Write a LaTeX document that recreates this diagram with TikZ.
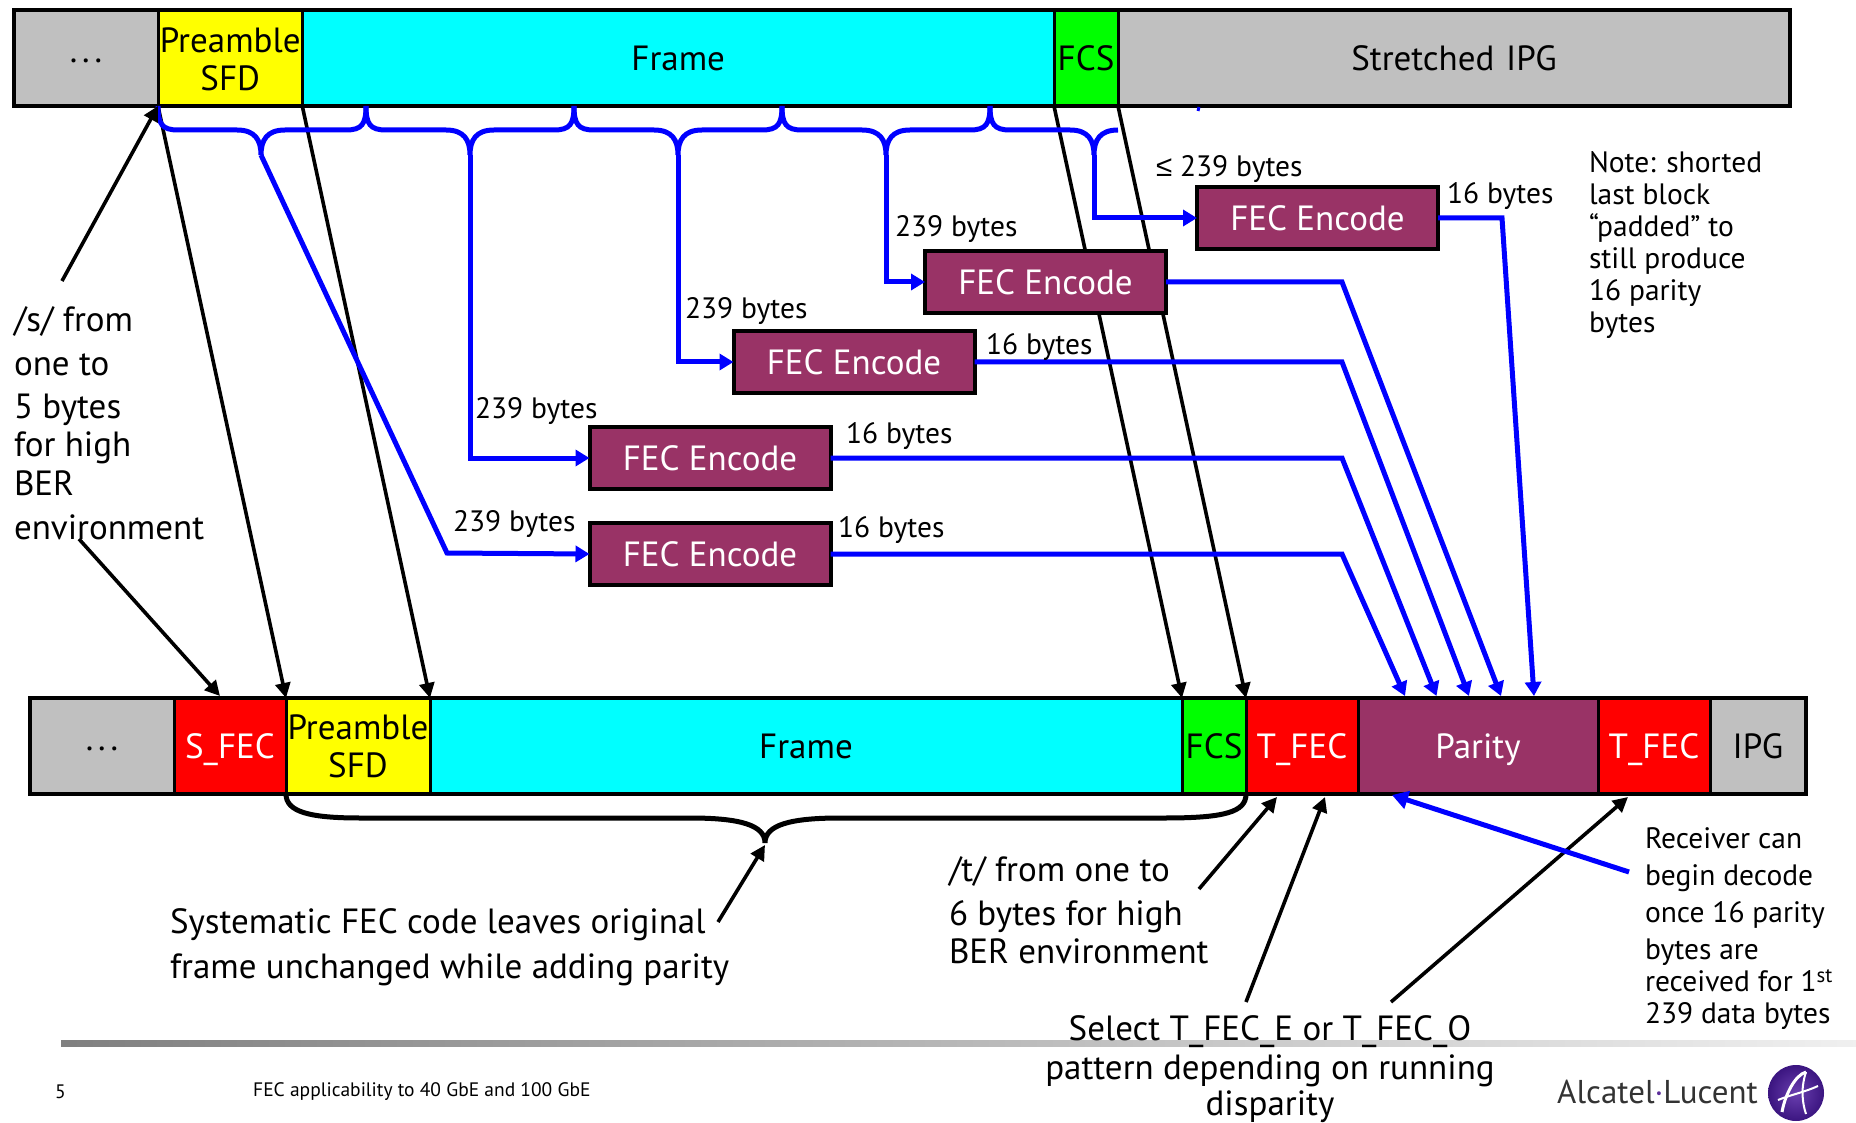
\documentclass[tikz,border=0pt]{standalone}
\usepackage{fontspec}
\setmainfont{PT Sans}
\newfontfamily\symfont{Liberation Sans}
\usetikzlibrary{arrows.meta}
\definecolor{barGray}{HTML}{C0C0C0}
\definecolor{parityCol}{HTML}{993366}
\definecolor{pureBlue}{HTML}{0000FF}
\definecolor{pureCyan}{HTML}{00FFFF}
\definecolor{pureYellow}{HTML}{FFFF00}
\definecolor{pureGreen}{HTML}{00FF00}
\definecolor{pureRed}{HTML}{FF0000}
\definecolor{logoIn}{HTML}{6A3FB0}
\definecolor{logoOut}{HTML}{3B1580}
\definecolor{logoDot}{HTML}{5B2D9A}
\newcommand\bigf{\fontsize{35}{38}\selectfont}
\newcommand\smallf{\fontsize{29.5}{32}\selectfont}
\newcommand\threedots{\raisebox{-9pt}{.\hspace{5pt}.\hspace{5pt}.}}
\newcommand\evenlab[1]{\vphantom{F}\smash{#1}}
\newcommand\segnode[7]{%
  \pgfmathsetlengthmacro\segw{#3-#2}%
  \node[seg, fill=#4, text=#5, text width=\segw] (#1) at ({(#2+#3)/2},#6) {#7};}
\newcommand\bracepiece[3]{% left tick x, branch x, right tick x
  \draw[blueline, line cap=butt] (#1,106) .. controls (#1,124) and ({#1+4},130) .. ({#1+20},130)
    -- ({#2-24},130) .. controls ({#2-6},130) and (#2,140) .. (#2,155)
    .. controls (#2,140) and ({#2+6},130) .. ({#2+24},130)
    -- ({#3-20},130) .. controls ({#3-4},130) and (#3,124) .. (#3,106);}
\tikzset{
  x=1pt,y=-1pt,
  seg/.style={draw=black,line width=3pt,inner sep=0pt,outer sep=0pt,minimum height=96pt,align=center,font=\bigf},
  barframe/.style={draw=black,line width=4.5pt},
  fecbox/.style={draw=black,fill=parityCol,text=white,line width=4pt,inner sep=0pt,outer sep=0pt,font=\bigf,minimum height=62pt,minimum width=241pt},
  blueline/.style={draw=pureBlue,line width=5pt},
  bluearrow/.style={blueline,-{Triangle[length=14pt,width=16pt]}},
  blackline/.style={draw=black,line width=3.6pt,-{Triangle[length=15pt,width=15pt]}},
  lblS/.style={inner sep=0pt,outer sep=0pt,anchor=west,font=\smallf},
  note/.style={inner sep=0pt,outer sep=0pt,anchor=north west,align=left},
}
\begin{document}
\begin{tikzpicture}
\useasboundingbox (0,0) rectangle (1856,1123);

% footer rule, under the text
\shade[left color=black!50,right color=black!6] (61,1040) rectangle (1856,1046);

% bars
\segnode{ta}{14}{158}{barGray}{black}{58}{\threedots}
\segnode{tb}{158}{302.5}{pureYellow}{black}{59}{Preamble\\SFD}
\segnode{tc}{302.5}{1054}{pureCyan}{black}{58}{Frame}
\segnode{td}{1054}{1118}{pureGreen}{black}{58}{FCS}
\segnode{te}{1118}{1790}{barGray}{black}{58}{Stretched IPG}
\draw[barframe] (ta.north west) rectangle (te.south east);

\segnode{ba}{30}{174}{barGray}{black}{746}{\threedots}
\segnode{bb}{174}{286}{pureRed}{white}{746}{\evenlab{S\_FEC}}
\segnode{bc}{286}{430}{pureYellow}{black}{746}{Preamble\\SFD}
\segnode{bd}{430}{1182}{pureCyan}{black}{746}{Frame}
\segnode{be}{1182}{1246}{pureGreen}{black}{746}{FCS}
\segnode{bf}{1246}{1358}{pureRed}{white}{746}{\evenlab{T\_FEC}}
\segnode{bg}{1358}{1598}{parityCol}{white}{746}{\evenlab{Parity}}
\segnode{bh}{1598}{1710}{pureRed}{white}{746}{\evenlab{T\_FEC}}
\segnode{bi}{1710}{1806}{barGray}{black}{746}{IPG}
\draw[barframe] (ba.north west) rectangle (bi.south east);

% black through lines, under everything else
\draw[blackline] (ta.south east) -- (bc.north west);
\draw[blackline] (tb.south east) -- (bd.north west);
\draw[blackline] (tc.south east) -- (be.north west);
\draw[blackline] (td.south east) -- (bf.north west);

% FEC boxes
\node[fecbox] (f1) at (1317.5,218) {FEC Encode};
\node[fecbox] (f2) at (1045.5,282) {FEC Encode};
\node[fecbox] (f3) at (854,362) {FEC Encode};
\node[fecbox] (f4) at (710,458) {FEC Encode};
\node[fecbox] (f5) at (710,554) {FEC Encode};

% blue braces
\bracepiece{158}{261}{366}
\bracepiece{366}{470}{574}
\bracepiece{574}{678}{782}
\bracepiece{782}{886}{990}
\draw[blueline] (990,106) .. controls (990,124) and (994,130) .. (1010,130) -- (1070,130)
   .. controls (1088,130) and (1094,140) .. (1094,155) .. controls (1094,140) and (1100,130) .. (1118,130);
\draw[pureBlue,line width=3pt] (1199,107) -- (1198,111);

% named bend points
\coordinate (j1) at (261,155);
\coordinate (j2) at (470,155);
\coordinate (j3) at (678,155);
\coordinate (j4) at (886,155);
\coordinate (j5) at (1094,155);
\coordinate (k1) at (447,553);

% blue inputs
\draw[bluearrow] (j1) -- (k1) -- (f5.west);
\draw[bluearrow] (j2) |- (f4.west);
\draw[bluearrow] (j3) |- (f3.west);
\draw[bluearrow] (j4) |- (f2.west);
\draw[bluearrow] (j5) |- (f1.west);

% blue outputs
\coordinate (p1) at (1405,696);
\coordinate (p2) at (1436.5,696);
\coordinate (p3) at (1469,696);
\coordinate (p4) at (1501,696);
\coordinate (p5) at (1534,696);
\coordinate (m1) at (1342,554);
\coordinate (m2) at (1342,458);
\coordinate (m3) at (1342,362);
\coordinate (m4) at (1342,282);
\coordinate (m5) at (1502,218);
\draw[bluearrow] (f5.east) -- (m1) -- (p1);
\draw[bluearrow] (f4.east) -- (m2) -- (p2);
\draw[bluearrow] (f3.east) -- (m3) -- (p3);
\draw[bluearrow] (f2.east) -- (m4) -- (p4);
\draw[bluearrow] (f1.east) -- (m5) -- (p5);

% annotation arrows
\coordinate (s1) at (62,281);
\coordinate (s2) at (79,539);
\coordinate (s3) at (220,696);
\draw[blackline] (s1) -- (ta.south east);
\draw[blackline] (s2) -- (s3);

\draw[draw=black,line width=5pt] (bc.south west) .. controls (286,812) and (310,818) .. (360,818) -- (690,818)
   .. controls (740,818) and (765,825) .. (765,843) .. controls (765,825) and (790,818) .. (840,818)
   -- (1165,818) .. controls (1225,818) and (1246,812) .. (be.south east);
\coordinate (sys1) at (718,922);
\coordinate (sys2) at (765,845);
\draw[blackline] (sys1) -- (sys2);
\coordinate (t1) at (1199,889);
\coordinate (t2) at (1246,1002);
\coordinate (t3) at (1391,1002);
\coordinate (u1) at (1277,797);
\coordinate (u2) at (1325,797);
\coordinate (u3) at (1628,797);
\draw[blackline] (t1) -- (u1);
\draw[blackline] (t2) -- (u2);
\draw[blackline] (t3) -- (u3);
\coordinate (r1) at (1629,872);
\coordinate (r2) at (1392,795);
\draw[blueline,-{Triangle[length=16pt,width=18pt]}] (r1) -- (r2);

% small labels
\node[lblS] (l1) at (1156,169) {{\symfont≤} 239 bytes};
\node[lblS] (l2) at (1447,196) {16 bytes};
\node[lblS] (l3) at (895,229.5) {239 bytes};
\node[lblS] (l4) at (685,311) {239 bytes};
\node[lblS] (l5) at (986,347) {16 bytes};
\node[lblS] (l6) at (475,411) {239 bytes};
\node[lblS] (l7) at (846,436) {16 bytes};
\node[lblS] (l8) at (453,524) {239 bytes};
\node[lblS] (l9) at (838,530) {16 bytes};

% notes
\node[note,font=\smallf] (n1) at (1589,152) {Note: shorted\\last block\\“padded” to\\still produce\\16 parity\\bytes};
\node[note,font=\bigf] (n2) at (14,307) {/s/ from\\[5.5pt]one to\\[5.5pt]5 bytes\\[0pt]for high\\[1pt]BER\\[5.5pt]environment};
\node[note,font=\bigf] (n3) at (170,909) {Systematic FEC code leaves original\\[6.5pt]frame unchanged while adding parity};
\node[note,font=\bigf] (n4) at (949,857) {/t/ from one to\\[6pt]6 bytes for high\\BER environment};
\node[note,font=\bigf,align=center,anchor=north] (n5) at (1270,1016) {Select T\_FEC\_E or T\_FEC\_O\\[1pt]pattern depending on running\\[-2pt]disparity};
\node[note,font=\smallf] (n6) at (1645,828) {Receiver can\\[5pt]begin decode\\[5pt]once 16 parity\\[5pt]bytes are\\received for 1\textsuperscript{st}\\239 data bytes};

% footer
\node[inner sep=0pt,anchor=west,font=\fontsize{19.5}{24}\selectfont] (pg) at (55,1092) {5};
\node[inner sep=0pt,anchor=west,font=\fontsize{19.5}{24}\selectfont] (ft) at (253,1092) {FEC applicability to 40 GbE and 100 GbE};
\node[inner sep=0pt,anchor=west,text=black!80,font=\fontsize{33}{37}\selectfont] (al) at (1557,1092) {Alcatel{\color{logoDot}·}Lucent};
\shade[inner color=logoIn,outer color=logoOut] (1796,1093) circle (28);
\draw[white,line width=3pt] (1782,1112) .. controls (1785,1095) and (1795,1075) .. (1806,1072);
\draw[white,line width=2pt] (1806,1072) .. controls (1800,1090) and (1803,1105) .. (1806,1114);
\draw[white,line width=2pt] (1778,1100) .. controls (1790,1095) and (1805,1092) .. (1818,1086);
\end{tikzpicture}
\end{document}
